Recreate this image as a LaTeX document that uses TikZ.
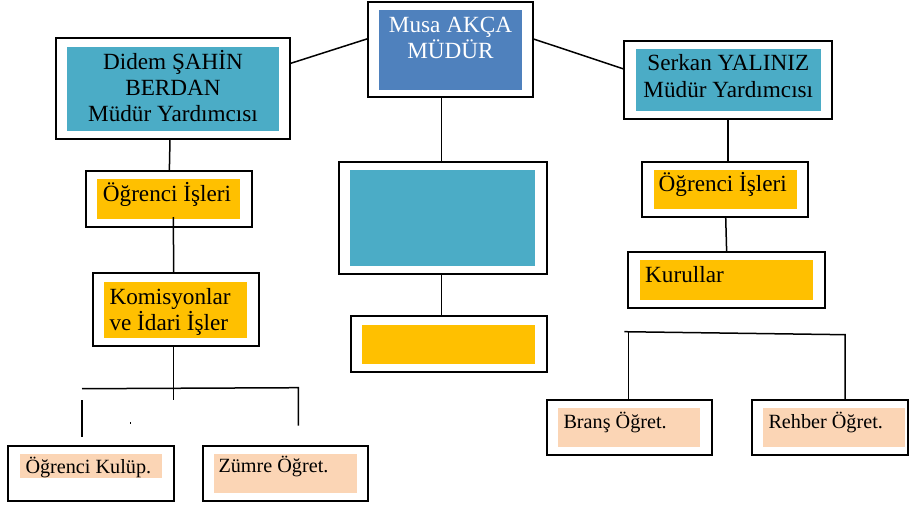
\documentclass[tikz,border=0pt]{standalone}
\usepackage{fontspec}
\setmainfont{Liberation Serif}
\definecolor{teal}{HTML}{4BACC6}
\definecolor{musablue}{HTML}{4F81BD}
\definecolor{gold}{HTML}{FFC000}
\definecolor{peach}{HTML}{FBD5B5}
\newcommand\obox[5]{\node[outerbox, minimum width={(#4-#2)*1pt}, minimum height={(#5-#3)*1pt}] (#1) at ({(#2+#4)/2},{(#3+#5)/2}) {};}
\newcommand\ibox[6]{\node[innerbox, fill=#6, minimum width={(#4-#2)*1pt}, minimum height={(#5-#3)*1pt}] (#1) at ({(#2+#4)/2},{(#3+#5)/2}) {};}
\tikzset{
  outerbox/.style={draw=black, line width=1.8pt, fill=white, inner sep=0pt, outer sep=0pt},
  innerbox/.style={draw=none, inner sep=0pt, outer sep=0pt},
  conn/.style={line width=1.5pt, line cap=butt},
  bigtxt/.style={inner sep=0pt, anchor=base, font=\fontsize{23.2}{26}\selectfont},
  bigtxtl/.style={bigtxt, anchor=base west},
  smtxt/.style={inner sep=0pt, anchor=base west, font=\fontsize{20.2}{24}\selectfont},
}
\begin{document}
\begin{tikzpicture}[x=1pt,y=-1pt]
\useasboundingbox[fill=white] (0,0) rectangle (909,506);

% Musa
\obox{musa}{367.7}{1.7}{532.7}{97.3}
\ibox{musai}{379.3}{10}{521.7}{89.7}{musablue}
\node[bigtxt, text=white] (musat1) at (450.5,32.3) {Musa AKÇA};
\node[bigtxt, text=white] (musat2) at (450.5,58.3) {MÜDÜR};

% Didem
\obox{didem}{55.7}{38.3}{289.7}{139}
\ibox{didemi}{67}{47}{279}{131}{teal}
\node[bigtxt] (didemt1) at (173,69) {Didem ŞAHİN};
\node[bigtxt] (didemt2) at (173,95) {BERDAN};
\node[bigtxt] (didemt3) at (173,121.7) {Müdür Yardımcısı};

% Serkan
\obox{serkan}{623.7}{41}{832.3}{118.7}
\ibox{serkani}{635.7}{49}{820.7}{110.7}{teal}
\node[bigtxt] (serkant1) at (728.3,70.7) {Serkan YALINIZ};
\node[bigtxt] (serkant2) at (728.3,97.7) {Müdür Yardımcısı};

% Ogrenci Isleri left
\obox{ogrl}{86}{171.3}{251.7}{226.7}
\ibox{ogrli}{97.3}{179}{240}{219}{gold}
\node[bigtxt] (ogrlt) at (167,201) {Öğrenci İşleri};

% Ogrenci Isleri right
\obox{ogrr}{642.3}{161.7}{807.7}{217.3}
\ibox{ogrri}{653.7}{170}{796.7}{209}{gold}
\node[bigtxt] (ogrrt) at (722.8,191.7) {Öğrenci İşleri};

% Komisyonlar
\obox{kom}{92.7}{273.3}{258.7}{346.3}
\ibox{komi}{104.3}{282}{246.7}{337.7}{gold}
\node[bigtxtl] (komt1) at (109.3,304) {Komisyonlar};
\node[bigtxtl] (komt2) at (109.3,330) {ve İdari İşler};

% Center big box
\obox{cbig}{338.7}{162.3}{547.3}{274}
\ibox{cbigi}{350.3}{170}{535.3}{265.7}{teal}

% Center small box
\obox{csmall}{350.7}{316.3}{547.3}{372.3}
\ibox{csmalli}{362.3}{325}{535.3}{363.7}{gold}

% Kurullar
\obox{kur}{628.3}{252}{825}{307.7}
\ibox{kuri}{639.7}{260}{813}{300}{gold}
\node[bigtxtl] (kurt) at (645,282.3) {Kurullar};

% Ogrenci Kulup
\obox{kulup}{8.3}{445.7}{174}{501}
\ibox{kulupi}{20.3}{453.7}{162.3}{477.7}{peach}
\node[smtxt] (kulupt) at (25.3,473.3) {Öğrenci Kulüp.};

% Zumre
\obox{zumre}{202.7}{445.7}{368.3}{501}
\ibox{zumrei}{214.3}{453.7}{357}{492.7}{peach}
\node[smtxt] (zumret) at (218.3,472.7) {Zümre Öğret.};

% Brans
\obox{brans}{546.7}{400}{712.3}{455.3}
\ibox{bransi}{558.3}{408}{700.3}{446.7}{peach}
\node[smtxt] (branst) at (563.3,428.3) {Branş Öğret.};

% Rehber
\obox{rehber}{751.7}{400}{907.6}{455.3}
\ibox{rehberi}{763.3}{408}{905.2}{446.7}{peach}
\node[smtxt] (rehbert) at (768.3,428.3) {Rehber Öğret.};

% connectors top
\draw[conn] ([yshift=25pt]didem.east) -- ([yshift=10.8pt]musa.west);
\draw[conn] ([yshift=10.8pt]musa.east) -- ([yshift=10.85pt]serkan.west);
\draw[conn] ([xshift=-2.7pt]didem.south) -- ([xshift=0.5pt]ogrl.north);
\draw[conn] ([xshift=4.65pt,yshift=2pt]ogrli.south) -- ([xshift=-2pt]kom.north);
\draw[conn] ([xshift=-8.5pt]musa.south) -- ([xshift=-1.3pt]cbig.north);
\draw[conn] ([xshift=-1.3pt]cbig.south) -- ([xshift=-7.3pt]csmall.north);
\draw[conn] (serkan.south) -- ([xshift=3pt]ogrr.north);
\draw[conn] ([xshift=0.7pt]ogrr.south) -- (kur.north);

% left branching
\coordinate (kM) at (173.7,400);
\coordinate (kL) at (82,388.7);
\coordinate (kR) at (298.3,387.7);
\coordinate (kRd) at (298.3,425.7);
\coordinate (kLt) at (82,400);
\coordinate (kLb) at (82,436.7);
\draw[conn] ([xshift=-2pt]kom.south) -- (kM);
\draw[conn] (kL) -- (kR) -- (kRd);
\draw[conn] (kLt) -- (kLb);
\fill (129.6,422) rectangle (130.6,423.6);

% right branching
\coordinate (rL) at (624.3,331.7);
\coordinate (rLc) at (628.7,331.9);
\coordinate (rR) at (845,334.7);
\draw[conn] (rL) -- (rR) -- (rR |- rehber.north);
\draw[conn] (rLc) -- (rLc |- brans.north);
\end{tikzpicture}
\end{document}
